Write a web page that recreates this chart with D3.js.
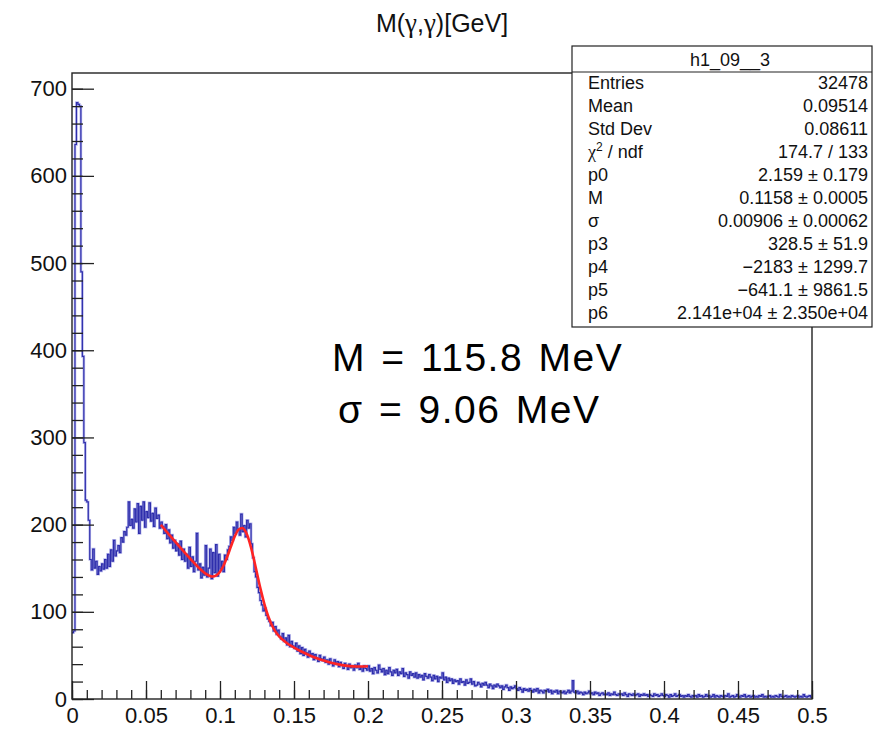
<!DOCTYPE html>
<html>
<head>
<meta charset="utf-8">
<script src="https://cdn.jsdelivr.net/npm/d3@7"></script>
<style>
  html, body { margin: 0; padding: 0; background: #fff; }
  svg text { font-family: "Liberation Sans", Arial, Helvetica, sans-serif; }
</style>
</head>
<body>
<svg id="chart" width="886" height="731"></svg>
<script>
// ---------------- DATA ----------------
const titleParts = ["M(", "γ", ",", "γ", ")[GeV]"];
const binWidth = 0.001;
const xTicks = [0, 0.05, 0.1, 0.15, 0.2, 0.25, 0.3, 0.35, 0.4, 0.45, 0.5];
const yTicks = [0, 100, 200, 300, 400, 500, 600, 700];
// histogram counts, 500 bins of 0.001 GeV from 0 to 0.5
const counts = [
  76, 78, 636, 684, 682, 680, 490, 393, 294, 228,
  226, 205, 160, 148, 172, 150, 158, 143, 152, 147,
  155, 149, 160, 150, 166, 152, 171, 158, 182, 164,
  170, 176, 168, 185, 180, 192, 188, 197, 226, 199,
  206, 196, 218, 203, 224, 190, 221, 205, 226, 197,
  215, 208, 225, 204, 213, 198, 219, 207, 211, 196,
  203, 198, 190, 200, 184, 194, 179, 188, 173, 182,
  170, 178, 165, 181, 160, 172, 158, 166, 150, 174,
  152, 163, 146, 158, 190, 148, 155, 139, 151, 142,
  176, 140, 150, 172, 138, 168, 145, 177, 141, 166,
  149, 158, 146, 165, 160, 171, 175, 186, 182, 197,
  190, 203, 195, 188, 212, 192, 199, 186, 205, 196,
  201, 178, 162, 146, 140, 128, 122, 113, 108, 101,
  104, 96, 92, 89, 84, 88, 78, 83, 74, 79,
  72, 69, 75, 66, 70, 62, 73, 60, 66, 61,
  58, 64, 55, 61, 52, 59, 50, 57, 53, 48,
  55, 49, 52, 45, 51, 47, 43, 50, 46, 44,
  48, 42, 45, 40, 46, 41, 38, 45, 40, 43,
  37, 42, 39, 35, 41, 38, 34, 40, 36, 38,
  33, 39, 36, 41, 34, 37, 32, 38, 35, 33,
  38, 32, 35, 29, 36, 33, 30, 39, 34, 31,
  35, 28, 33, 29, 36, 31, 27, 33, 30, 34,
  27, 31, 29, 35, 26, 30, 28, 24, 31, 27,
  29, 25, 30, 24, 28, 25, 27, 22, 29, 26,
  24, 28, 25, 21, 27, 23, 26, 20, 25, 24,
  30, 22, 25, 19, 24, 21, 23, 18, 22, 20,
  21, 17, 23, 19, 20, 16, 22, 18, 19, 23,
  17, 20, 15, 16, 19, 17, 14, 18, 16, 19,
  16, 13, 17, 15, 12, 16, 14, 17, 15, 13,
  15, 11, 14, 16, 13, 10, 14, 12, 13, 15,
  12, 10, 13, 11, 8, 12, 10, 11, 9, 12,
  10, 8, 11, 9, 12, 7, 10, 9, 7, 10,
  9, 11, 8, 10, 6, 9, 8, 10, 6, 9,
  8, 7, 9, 6, 8, 10, 7, 9, 21, 8,
  7, 9, 6, 8, 7, 5, 8, 6, 7, 9,
  6, 7, 5, 8, 6, 7, 4, 6, 7, 5,
  6, 5, 7, 4, 6, 5, 8, 5, 4, 6,
  5, 6, 4, 7, 5, 3, 6, 5, 4, 6,
  4, 5, 6, 3, 5, 4, 6, 4, 5, 3,
  5, 4, 3, 6, 4, 5, 3, 4, 6, 4,
  3, 5, 4, 2, 5, 3, 4, 6, 3, 4,
  5, 3, 4, 2, 4, 3, 5, 3, 2, 4,
  3, 4, 2, 5, 3, 4, 2, 3, 5, 3,
  4, 2, 3, 5, 2, 4, 3, 2, 4, 3,
  2, 4, 3, 6, 2, 3, 4, 2, 3, 5,
  3, 2, 4, 3, 5, 2, 3, 4, 2, 3,
  4, 2, 3, 2, 4, 3, 5, 2, 3, 2,
  3, 4, 2, 3, 2, 4, 3, 2, 5, 3,
  2, 3, 4, 2, 3, 2, 4, 3, 2, 3,
  4, 2, 3, 2, 5, 3, 2, 3, 4, 2
];
// fit curve
const fitX = [0.060, 0.065, 0.070, 0.075, 0.080, 0.085, 0.090, 0.095, 0.0975, 0.100,
              0.1025, 0.105, 0.1075, 0.110, 0.1125, 0.115, 0.1175, 0.120, 0.1225, 0.125,
              0.1275, 0.130, 0.1325, 0.135, 0.1375, 0.140, 0.145, 0.150, 0.155, 0.160,
              0.165, 0.170, 0.175, 0.180, 0.185, 0.190, 0.195, 0.200];
const fitY = [199.8, 189.8, 179.9, 170.2, 160.7, 151.7, 144.1, 140.5, 141.8, 146.0,
              153.4, 163.7, 175.5, 186.6, 194.3, 196.2, 191.3, 179.7, 163.2, 144.2,
              125.4, 108.8, 95.2, 84.9, 77.3, 71.8, 64.3, 59.0, 54.5, 50.5,
              47.0, 44.1, 41.6, 39.7, 38.3, 37.4, 37.2, 37.5];
// stats box
const statsTitle = "h1_09__3";
const statsNames = ["Entries", "Mean", "Std Dev", "CHI2", "p0", "M", "σ", "p3", "p4", "p5", "p6"];
const statsValues = ["32478", "0.09514", "0.08611", "174.7 / 133", "2.159 ± 0.179", "0.1158 ± 0.0005",
  "0.00906 ± 0.00062", "328.5 ± 51.9", "−2183 ± 1299.7", "−641.1 ± 9861.5", "2.141e+04 ± 2.350e+04"];
const annotLines = ["M = 115.8 MeV", "σ = 9.06 MeV"];

// ---------------- DRAW ----------------
const svg = d3.select("#chart");
const L = 72, R = 812, T = 73, B = 699;
const x = d3.scaleLinear().domain([0, 0.5]).range([L, R]);
const y = d3.scaleLinear().domain([0, 718]).range([B, T]);

// title
const tt = svg.append("text").attr("x", 442).attr("y", 32).attr("text-anchor", "middle")
  .attr("font-size", 25).attr("fill", "#111");
titleParts.forEach(p => {
  const s = tt.append("tspan").text(p);
  if (p === "γ") s.attr("font-family", "'Liberation Serif', 'DejaVu Serif', serif").attr("font-size", 27);
});

// clip
svg.append("defs").append("clipPath").attr("id", "clip")
  .append("rect").attr("x", L).attr("y", T).attr("width", R - L).attr("height", B - T);

// histogram step line
const pts = counts.map((v, i) => [i * binWidth, v]);
pts.push([counts.length * binWidth, counts[counts.length - 1]]);
const step = d3.line().x(d => x(d[0])).y(d => y(d[1])).curve(d3.curveStepAfter);
svg.append("path").attr("clip-path", "url(#clip)")
  .attr("d", step(pts)).attr("fill", "none")
  .attr("stroke", "#8080dd").attr("stroke-width", 2.6).attr("stroke-opacity", 0.55);
svg.append("path").attr("clip-path", "url(#clip)")
  .attr("d", step(pts)).attr("fill", "none")
  .attr("stroke", "#2e2eac").attr("stroke-width", 1.2).attr("stroke-linejoin", "miter");

// fit
const fitLine = d3.line().x(d => x(d[0])).y(d => y(d[1])).curve(d3.curveMonotoneX);
svg.append("path").attr("d", fitLine(fitX.map((v, i) => [v, fitY[i]])))
  .attr("fill", "none").attr("stroke", "#ff2424").attr("stroke-width", 2.6);

// axes
const fmtX = d => String(+d.toFixed(2));
const xMinor = d3.range(0, 0.5001, 0.01).map(v => +v.toFixed(2));
const yMinor = d3.range(0, 701, 20);
const gx = svg.append("g").attr("transform", `translate(0,${B})`);
gx.call(d3.axisBottom(x).tickValues(xMinor).tickSize(-9).tickFormat(""));
gx.call(g => g.select(".domain").remove());
const gx2 = svg.append("g").attr("transform", `translate(0,${B})`);
gx2.call(d3.axisBottom(x).tickValues(xTicks).tickSize(-18).tickPadding(8).tickFormat(fmtX));
gx2.call(g => g.select(".domain").remove());
gx2.selectAll("text").attr("font-size", 22).attr("fill", "#111");

const gy = svg.append("g").attr("transform", `translate(${L},0)`);
gy.call(d3.axisLeft(y).tickValues(yMinor).tickSize(-11).tickFormat(""));
gy.call(g => g.select(".domain").remove());
const gy2 = svg.append("g").attr("transform", `translate(${L},0)`);
gy2.call(d3.axisLeft(y).tickValues(yTicks).tickSize(-22).tickPadding(5).tickFormat(d3.format("d")));
gy2.call(g => g.select(".domain").remove());
gy2.selectAll("text").attr("font-size", 22).attr("fill", "#111");
svg.selectAll(".tick line").attr("stroke", "#222").attr("stroke-width", 1.3);

// frame
svg.append("rect").attr("x", L).attr("y", T).attr("width", R - L).attr("height", B - T)
  .attr("fill", "none").attr("stroke", "#222").attr("stroke-width", 1.4);

// annotation
annotLines.forEach((t, i) => {
  svg.append("text").attr("x", i === 0 ? 332 : 338).attr("y", i === 0 ? 371 : 423)
    .attr("font-size", 39).attr("letter-spacing", 1.5).attr("word-spacing", 3)
    .attr("fill", "#000").text(t);
});

// stats box
const bx = 572, by = 46, bw = 300, bh = 281;
svg.append("rect").attr("x", bx).attr("y", by).attr("width", bw).attr("height", bh)
  .attr("fill", "#fff").attr("stroke", "#222").attr("stroke-width", 1.2);
svg.append("line").attr("x1", bx).attr("x2", bx + bw).attr("y1", 72).attr("y2", 72)
  .attr("stroke", "#222").attr("stroke-width", 1.2);
svg.append("text").attr("x", 730).attr("y", 66).attr("text-anchor", "middle")
  .attr("font-size", 18).attr("fill", "#111").text(statsTitle);
statsNames.forEach((n, i) => {
  const yy = 89 + i * 23;
  const t = svg.append("text").attr("x", 588).attr("y", yy).attr("font-size", 18).attr("fill", "#111");
  if (n === "CHI2") {
    t.append("tspan").attr("font-family", "'Liberation Serif', 'DejaVu Serif', serif").text("χ");
    t.append("tspan").attr("font-size", 12).attr("dy", -7).text("2");
    t.append("tspan").attr("dy", 7).text(" / ndf");
  } else t.text(n);
  svg.append("text").attr("x", 868).attr("y", yy).attr("text-anchor", "end")
    .attr("font-size", 18).attr("fill", "#111").text(statsValues[i]);
});
</script>
</body>
</html>
